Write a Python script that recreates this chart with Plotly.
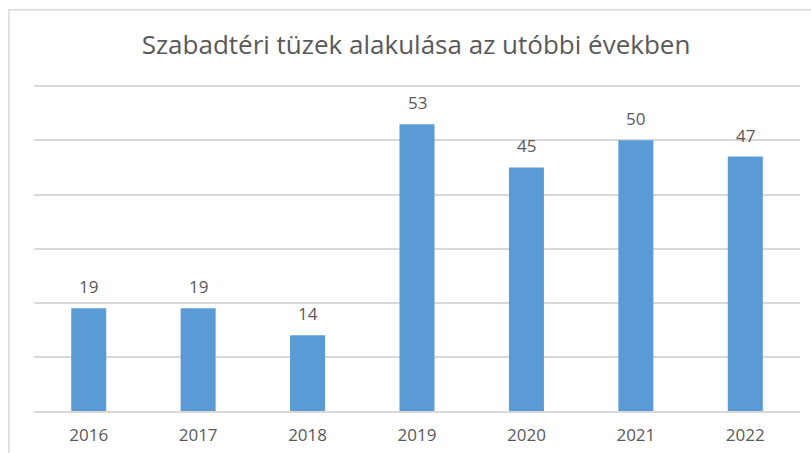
import plotly.graph_objects as go

years = ["2016", "2017", "2018", "2019", "2020", "2021", "2022"]
fires = [19, 19, 14, 53, 45, 50, 47]
title_text = "Szabadtéri tüzek alakulása az utóbbi években"

W, H = 811, 453
L, R, T, B = 34, 11, 83.25, 41.5
pw, ph = W - L - R, H - T - B
font = "Open Sans"
txt = "#595959"

fig = go.Figure()
fig.add_trace(go.Bar(x=years, y=fires, marker=dict(color="#5b9bd5", line=dict(width=0)),
                     width=0.32, hoverinfo="skip"))

for i, v in enumerate(fires):
    fig.add_annotation(x=i, y=v, xref="x", yref="y", text=str(v), showarrow=False,
                       yanchor="bottom", yshift=8,
                       font=dict(family=font, size=17, color=txt))

grid = "#d9d9d9"
fig.update_layout(
    width=W, height=H,
    margin=dict(l=L, r=R, t=T, b=B, autoexpand=False),
    paper_bgcolor="white", plot_bgcolor="white",
    showlegend=False,
    title=dict(text=title_text, x=416 / W, xanchor="center", xref="container",
               y=1 - 45 / H, yanchor="middle",
               font=dict(family=font, size=26, color=txt)),
    xaxis=dict(type="category", range=[-0.5, len(years) - 0.5], showgrid=False,
               showline=True, linecolor=grid, linewidth=1.5,
               ticks="outside", ticklen=8, tickcolor="rgba(0,0,0,0)",
               tickfont=dict(family=font, size=17, color=txt)),
    yaxis=dict(range=[0, 60.6], tick0=0, dtick=10, showgrid=True, gridcolor=grid, gridwidth=1.5,
               showticklabels=False, zeroline=False, fixedrange=True),
    shapes=[dict(type="rect", xref="paper", yref="paper",
                 x0=(9 - L) / pw, x1=1.2, y0=-0.3, y1=(H - B - 10) / ph,
                 line=dict(color=grid, width=1.5), fillcolor="rgba(0,0,0,0)", layer="below")],
)
fig.write_html("out.html", config={"displayModeBar": False},
               post_script="document.body.style.margin='0';document.body.style.overflow='hidden';")
